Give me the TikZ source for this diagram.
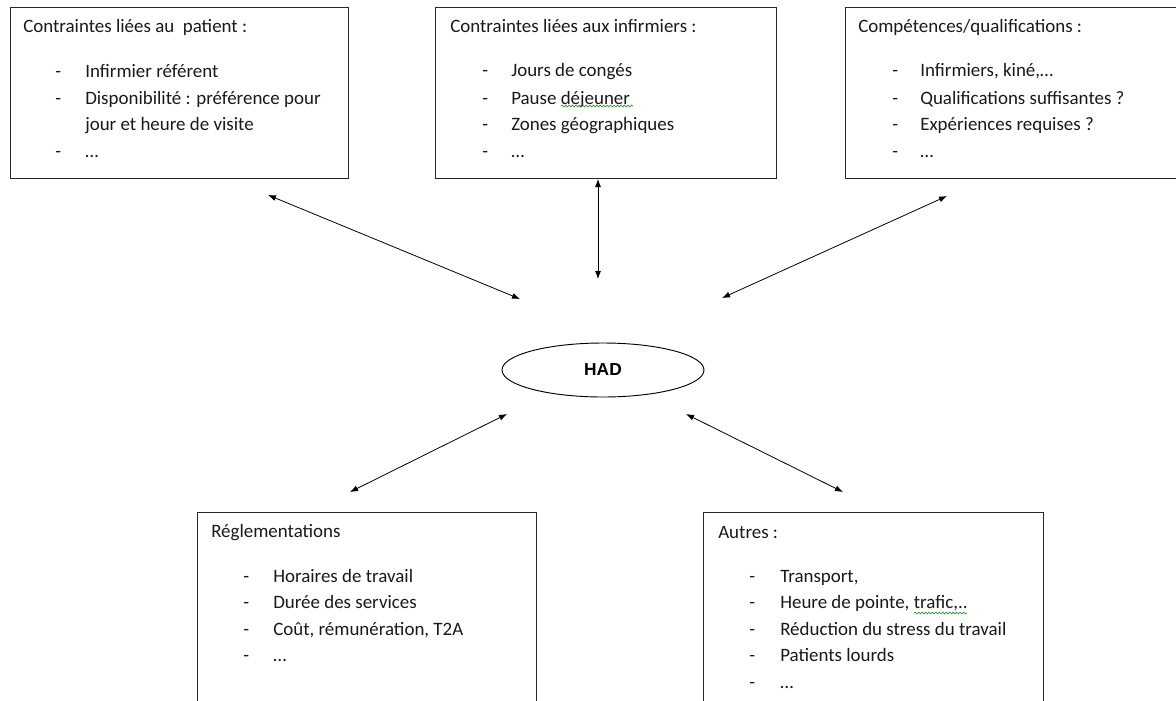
\documentclass[tikz,border=0pt]{standalone}
\usepackage{fontspec}
\setmainfont{Carlito}
\newfontfamily\hadfont{Liberation Sans}
\usetikzlibrary{arrows.meta,shapes.geometric,decorations.pathmorphing}

\begin{document}
\begin{tikzpicture}[x=0.75pt,y=-0.75pt,
    cbox/.style={draw=black!85,line width=0.9pt,anchor=north west,inner sep=0pt,minimum height=128.25pt},
    txt/.style={anchor=base west,inner sep=0pt,font=\fontsize{14.2}{17}\selectfont,text=black!90},
    dbl/.style={{Latex[length=6pt,width=4.5pt]}-{Latex[length=6pt,width=4.5pt]},line width=0.6pt},
    squig/.style={draw=green!55!black,line width=0.4pt,decorate,decoration={snake,amplitude=0.7pt,segment length=2.6pt}}]
    \clip (0,0) rectangle (1176,700);

    % boxes
    \node (patient) [cbox,minimum width=253.5pt] at (10,7) {};
    \node (infirm) [cbox,minimum width=255.75pt] at (435,7) {};
    \node (compet) [cbox,minimum width=256pt] at (845,7) {};
    \node (regl) [cbox,minimum width=254.25pt,minimum height=148.5pt] at (197,512) {};
    \node (autres) [cbox,minimum width=255pt,minimum height=148.5pt] at (703,512) {};
    \node (had) [draw,ellipse,line width=0.7pt,minimum width=151.5pt,minimum height=40.5pt]
      at (603,370) {\hadfont\bfseries\fontsize{13}{15}\selectfont HAD};

    % patient
    \node[txt] (patient-t) at (23,32) {Contraintes liées au\ \ patient :};
    \foreach \y/\t [count=\i] in {77/Infirmier référent, 104/{Disponibilité : préférence pour}, 130/jour et heure de visite, 157/…}
      \node[txt] (patient-\i) at (85,\y) {\t};
    \foreach \y [count=\i] in {77,104,157}
      \node[txt] (patient-d\i) at (55,\y) {-};

    % infirmiers
    \node[txt] (infirm-t) at (450,32) {Contraintes liées aux infirmiers :};
    \foreach \y/\t [count=\i] in {76/Jours de congés, 104/Pause déjeuner, 130/Zones géographiques, 157/…} {
      \node[txt] (infirm-\i) at (511,\y) {\t};
      \node[txt] (infirm-d\i) at (482,\y) {-};
    }
    \draw[squig] (561,106) -- (633,106);

    % competences
    \node[txt] (compet-t) at (858,32) {Compétences/qualifications :};
    \foreach \y/\t [count=\i] in {76/{Infirmiers, kiné,…}, 104/Qualifications suffisantes ?, 130/Expériences requises ?, 157/…} {
      \node[txt] (compet-\i) at (920,\y) {\t};
      \node[txt] (compet-d\i) at (892,\y) {-};
    }

    % reglementations
    \node[txt] (regl-t) at (211,537) {Réglementations};
    \foreach \y/\t [count=\i] in {582/Horaires de travail, 608/Durée des services, 635/{Coût, rémunération, T2A}, 661/…} {
      \node[txt] (regl-\i) at (273,\y) {\t};
      \node[txt] (regl-d\i) at (243,\y) {-};
    }

    % autres
    \node[txt] (autres-t) at (718,538) {Autres :};
    \foreach \y/\t [count=\i] in {582/{Transport,}, 608/{Heure de pointe, trafic,..}, 635/Réduction du stress du travail, 661/Patients lourds, 688/…} {
      \node[txt] (autres-\i) at (780,\y) {\t};
      \node[txt] (autres-d\i) at (749,\y) {-};
    }
    \draw[squig] (914,613) -- (967,613);

    % arrows
    \coordinate (a1s) at (268,195); \coordinate (a1e) at (520,299);
    \coordinate (a2s) at (598,179); \coordinate (a2e) at (598,279);
    \coordinate (a3s) at (947,196); \coordinate (a3e) at (722,298);
    \coordinate (a4s) at (507,414); \coordinate (a4e) at (350,492);
    \coordinate (a5s) at (686,414); \coordinate (a5e) at (843,492);
    \foreach \a in {a1,a2,a3,a4,a5}
      \draw[dbl] (\a s) -- (\a e);
\end{tikzpicture}
\end{document}
